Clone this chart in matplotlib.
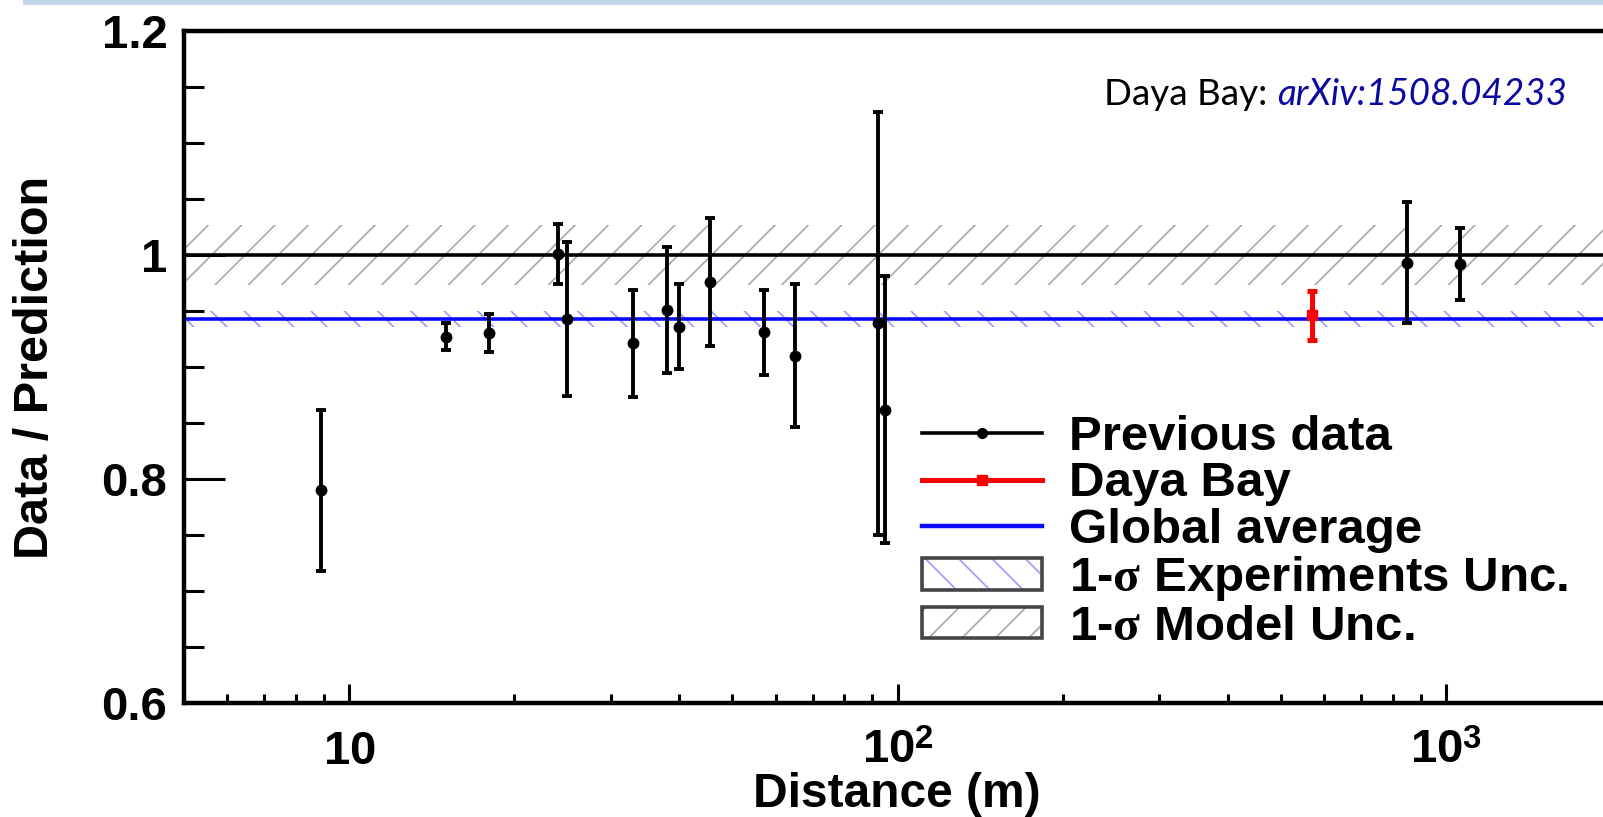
"""Reactor antineutrino flux ratio (data / prediction) versus baseline distance."""

import matplotlib

matplotlib.use("Agg")
import matplotlib.pyplot as plt
from matplotlib.lines import Line2D
from matplotlib.patches import Patch, Rectangle
from matplotlib.ticker import FixedLocator, LogLocator, MultipleLocator, NullFormatter

# previous short / long baseline reactor measurements
prev_distance = [8.9, 15.0, 18.0, 24.0, 25.0, 33.0, 38.0, 40.0, 45.5, 57.0, 65.0, 92.0, 95.0, 850.0, 1060.0]
prev_ratio = [0.790, 0.927, 0.930, 1.001, 0.943, 0.921, 0.951, 0.936, 0.976, 0.931, 0.910, 0.939, 0.862, 0.993, 0.992]
prev_error = [0.072, 0.012, 0.017, 0.027, 0.069, 0.048, 0.056, 0.038, 0.057, 0.038, 0.064, 0.189, 0.119, 0.054, 0.032]

dayabay_distance = [570.0]
dayabay_ratio = [0.946]
dayabay_error = [0.022]

global_average = 0.943
global_average_unc = 0.007
model_center = 1.0
model_unc = 0.027

x_limits = (5, 2000)
y_limits = (0.6, 1.2)
x_major_ticks = [10, 100, 1000]
x_major_labels = [r"$10$", r"$10^{2}$", r"$10^{3}$"]
y_major_ticks = [0.6, 0.8, 1.0, 1.2]
y_major_labels = ["0.6", "0.8", "1", "1.2"]

legend_labels = [
    "Previous data",
    "Daya Bay",
    "Global average",
    r"1-$\sigma$ Experiments Unc.",
    r"1-$\sigma$ Model Unc.",
]

plt.rcParams["font.family"] = ["Liberation Sans", "DejaVu Sans"]
plt.rcParams["font.weight"] = "bold"
plt.rcParams["mathtext.fontset"] = "custom"
plt.rcParams["mathtext.rm"] = "Liberation Sans:bold"
plt.rcParams["mathtext.bf"] = "Liberation Sans:bold"
plt.rcParams["mathtext.it"] = "Liberation Serif"
plt.rcParams["hatch.linewidth"] = 1.2

FIG_W, FIG_H = 1603, 817
MODEL_COLOR = "#a8a8a8"
EXP_COLOR = "#9a9aff"
BLUE = "#0a0aff"

fig = plt.figure(figsize=(FIG_W / 100, FIG_H / 100), dpi=100, facecolor="white")

# slide header strip at the very top
fig.patches.append(
    Rectangle((23 / FIG_W, 1 - 5 / FIG_H), 1, 5 / FIG_H, transform=fig.transFigure,
              facecolor="#c6d6ea", edgecolor="none")
)

ax = fig.add_axes([184 / FIG_W, 1 - 703 / FIG_H, (1611 - 184) / FIG_W, (703 - 31) / FIG_H])
ax.set_xscale("log")
ax.set_xlim(*x_limits)
ax.set_ylim(*y_limits)

# uncertainty bands and reference lines
ax.axhspan(model_center - model_unc, model_center + model_unc, facecolor="none",
           edgecolor=MODEL_COLOR, hatch="/", linewidth=0, zorder=1)
ax.axhspan(global_average - global_average_unc, global_average + global_average_unc,
           facecolor="none", edgecolor=EXP_COLOR, hatch="\\", linewidth=0, zorder=1)
ax.axhline(model_center, color="black", linewidth=2.6, zorder=2)
ax.axhline(global_average, color=BLUE, linewidth=2.6, zorder=2)

ax.errorbar(prev_distance, prev_ratio, yerr=prev_error, fmt="o", color="black", markersize=7.5,
            elinewidth=2.8, capsize=3.6, capthick=2.8, zorder=4)
ax.errorbar(dayabay_distance, dayabay_ratio, yerr=dayabay_error, fmt="s", color="red",
            markersize=7.5, elinewidth=3.6, capsize=3.6, capthick=3.6, zorder=5)

# axes styling (ROOT-like)
for side in ("left", "bottom", "top", "right"):
    ax.spines[side].set_linewidth(3.2)

ax.xaxis.set_major_locator(FixedLocator(x_major_ticks))
ax.set_xticks(x_major_ticks, x_major_labels)
ax.xaxis.set_minor_locator(LogLocator(base=10, subs=range(2, 10)))
ax.xaxis.set_minor_formatter(NullFormatter())
ax.set_yticks(y_major_ticks, y_major_labels)
ax.yaxis.set_minor_locator(MultipleLocator(0.05))

ax.tick_params(axis="y", which="major", direction="in", length=29.5, width=2.2, pad=12, labelsize=34)
ax.tick_params(axis="y", which="minor", direction="in", length=14.4, width=2.2)
ax.tick_params(axis="x", which="major", direction="in", length=13.7, width=2.2, pad=43.8, labelsize=34)
ax.tick_params(axis="x", which="minor", direction="in", length=6.5, width=2.2)
for label in ax.get_xticklabels():
    label.set_verticalalignment("baseline")

fig.text(36 / FIG_W, 1 - 367 / FIG_H, "Data / Prediction", rotation=90, ha="center",
         va="center", fontsize=35)
fig.text(897 / FIG_W, 1 - 807 / FIG_H, "Distance (m)", ha="center", va="baseline", fontsize=34.5)

# reference note
ref_text = fig.text(1104 / FIG_W, 1 - 105 / FIG_H, "Daya Bay: ", family="Lato", weight="normal",
                    fontsize=26.5, color="black", va="baseline")
ax.annotate("arXiv:1508.04233", xy=(1, 0), xycoords=ref_text, va="bottom", ha="left",
            family="Lato", weight="normal", style="italic", fontsize=26.5, color="#0a0aa0",
            annotation_clip=False)

legend_handles = [
    Line2D([], [], color="black", linewidth=2.6, marker="o", markersize=7),
    Line2D([], [], color="red", linewidth=3.6, marker="s", markersize=7),
    Line2D([], [], color=BLUE, linewidth=3.2),
    (Patch(facecolor="white", edgecolor=EXP_COLOR, hatch="\\", linewidth=0),
     Patch(facecolor="none", edgecolor="#454545", linewidth=2.6, joinstyle="round")),
    (Patch(facecolor="white", edgecolor=MODEL_COLOR, hatch="/", linewidth=0),
     Patch(facecolor="none", edgecolor="#454545", linewidth=2.6, joinstyle="round")),
]
ax.legend(legend_handles, legend_labels, loc="upper left",
          bbox_to_anchor=(922 / FIG_W, 1 - 415 / FIG_H), bbox_transform=fig.transFigure,
          frameon=False, fontsize=35.5, handlelength=2.43, handleheight=0.61,
          handletextpad=0.55, labelspacing=0.03, borderpad=0, borderaxespad=0)

fig.savefig("out.png", dpi=100, facecolor="white")
